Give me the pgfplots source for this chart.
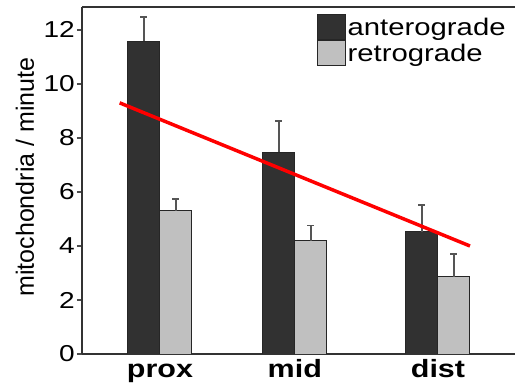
\documentclass[border=0pt]{standalone}
\usepackage{fontspec}
\setmainfont{Liberation Sans}
\usepackage{graphicx}
\usepackage{pgfplots}
\pgfplotsset{compat=1.18}
\definecolor{ant}{HTML}{313131}
\definecolor{ret}{HTML}{C0C0C0}
\definecolor{edge}{HTML}{262626}
\definecolor{errc}{HTML}{555555}
\newcommand\hs[1]{\scalebox{1.22}[1]{#1}}
\begin{document}
\begin{tikzpicture}
\useasboundingbox (-82bp,-36bp) rectangle (433bp,354bp);
\begin{axis}[
  at={(0,0)}, anchor=south west,
  scale only axis, width=433bp, height=347bp,
  xmin=0.439, xmax=3.554, ymin=0, ymax=12.85,
  axis x line*=box, axis y line*=left,
  axis line style={black!80, line width=1.5bp},
  ybar=0pt, bar width=32bp,
  /pgf/number format/assume math mode=true,
  ytick={0,2,4,6,8,10,12},
  yticklabel={\hs{\pgfmathprintnumber{\tick}}},
  yticklabel style={font=\fontsize{23bp}{27bp}\selectfont, inner sep=0pt, xshift=-2bp},
  xtick={1,1.97,3},
  xticklabels={\hs{prox},\hs{mid},\hs{dist}},
  xticklabel style={font=\fontsize{25bp}{29bp}\selectfont\bfseries, inner sep=0pt, text height=18bp, text depth=6bp, anchor=north},
  tick align=outside,
  major tick length=5bp,
  ytick style={black!70, line width=1.2bp},
  xtick style={draw=none},
  ylabel={mitochondria / minute},
  ylabel style={font=\fontsize{25bp}{29bp}\selectfont, at={(rel axis cs:-0.1316,0.51)}, anchor=center},
  legend style={at={(rel axis cs:0.5427,0.98)}, anchor=north west, draw=none, fill=none, inner sep=0pt, row sep=0pt,
    font=\fontsize{24bp}{26bp}\selectfont, cells={anchor=west}, nodes={inner sep=1.5bp}},
  legend image code/.code={\draw[#1, draw=edge, line width=1bp] (0bp,-12.5bp) rectangle (28bp,12.5bp);},
]
\addplot[fill=ant, draw=edge, line width=1bp,
  error bars/y dir=plus, error bars/y explicit,
  error bars/error bar style={color=errc, line width=1.5bp},
  error bars/error mark options={rotate=90, mark size=3.5bp, color=errc, line width=1.5bp}]
  coordinates {(1,11.59) +- (0,0.89) (1.97,7.48) +- (0,1.15) (3,4.53) +- (0,0.99)};
\addplot[fill=ret, draw=edge, line width=1bp,
  error bars/y dir=plus, error bars/y explicit,
  error bars/error bar style={color=errc, line width=1.5bp},
  error bars/error mark options={rotate=90, mark size=3.5bp, color=errc, line width=1.5bp}]
  coordinates {(1,5.30) +- (0,0.44) (1.97,4.20) +- (0,0.55) (3,2.86) +- (0,0.84)};
\legend{\hs{anterograde},\hs{retrograde}}
\addplot[sharp plot, red, line width=3.5bp, no markers] coordinates {(0.71,9.30) (3.23,4.00)};
\end{axis}
\end{tikzpicture}
\end{document}
